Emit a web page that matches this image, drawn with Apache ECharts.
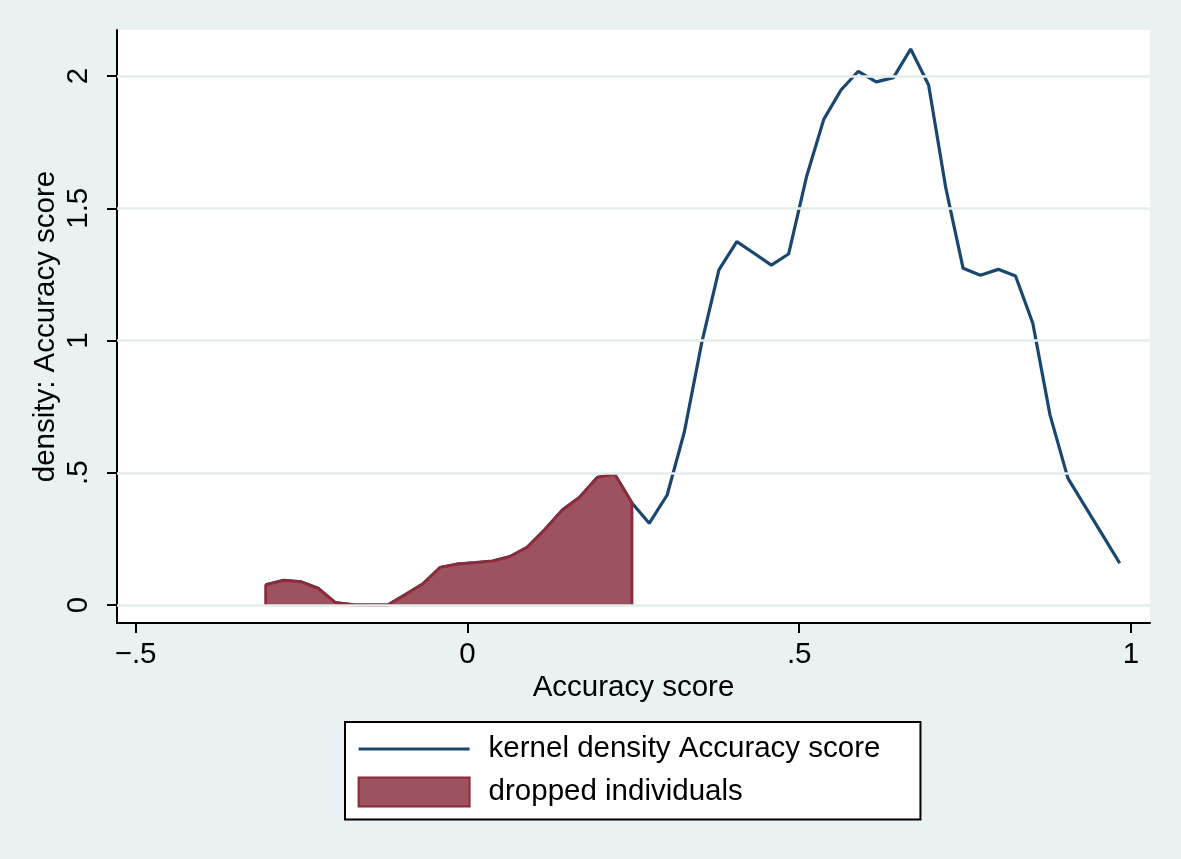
<!DOCTYPE html>
<html><head><meta charset="utf-8">
<script src="https://cdn.jsdelivr.net/npm/echarts@6/dist/echarts.min.js"></script>
<style>html,body{margin:0;padding:0;background:#e9f1f2}#c{width:1181px;height:859px}</style>
</head><body><div id="c"></div>
<script>
// Evaluation grid of the kernel density (Accuracy score)
const accuracyScore = [
  -0.304, -0.277, -0.251, -0.225, -0.199, -0.172, -0.146, -0.120, -0.093, -0.067,
  -0.041, -0.015, 0.012, 0.038, 0.064, 0.090, 0.117, 0.143, 0.169, 0.196,
  0.222, 0.248, 0.274, 0.301, 0.327, 0.353, 0.379, 0.406, 0.432, 0.458,
  0.484, 0.511, 0.537, 0.563, 0.589, 0.616, 0.642, 0.668, 0.695, 0.721,
  0.747, 0.773, 0.800, 0.826, 0.852, 0.878, 0.905, 0.931, 0.957, 0.983
];
// Estimated density at each grid point
const density = [
  0.076, 0.093, 0.088, 0.063, 0.009, 0.001, 0.000, 0.000, 0.040, 0.080,
  0.142, 0.155, 0.160, 0.166, 0.183, 0.218, 0.286, 0.359, 0.407, 0.483,
  0.494, 0.386, 0.309, 0.416, 0.655, 0.990, 1.267, 1.374, 1.330, 1.285,
  1.327, 1.619, 1.836, 1.947, 2.018, 1.978, 1.994, 2.102, 1.966, 1.575,
  1.273, 1.247, 1.269, 1.244, 1.065, 0.718, 0.479, 0.372, 0.265, 0.158
];
// Upper bound of accuracy score for the dropped individuals
const droppedCutoff = 0.25;

const xTicks = [-0.5, 0, 0.5, 1];
const xTickLabels = ['\u2212.5', '0', '.5', '1'];
const yTicks = [0, 0.5, 1, 1.5, 2];
const yTickLabels = ['0', '.5', '1', '1.5', '2'];
const seriesNames = ['kernel density Accuracy score', 'dropped individuals'];
const xTitle = 'Accuracy score';
const yTitle = 'density: Accuracy score';

const FONT = "'Liberation Sans', Arial, Helvetica, sans-serif";
const FS = 29.5;
const NAVY = '#1a476f';
const FILL = '#9d535f';
const EDGE = '#8f2b38';
const GRIDC = '#e3eded';

const lineData = accuracyScore.map((x, i) => [x, density[i]]);
const dropped = lineData.filter(p => p[0] <= droppedCutoff);
const areaData = [[dropped[0][0], 0]].concat(dropped, [[dropped[dropped.length - 1][0], 0]]);

function lookup(ticks, labels, v) {
  let best = 0;
  for (let i = 1; i < ticks.length; i++) if (Math.abs(ticks[i] - v) < Math.abs(ticks[best] - v)) best = i;
  return labels[best];
}

const chart = echarts.init(document.getElementById('c'), null, {renderer: 'canvas'});
chart.setOption({
  animation: false,
  backgroundColor: '#e9f1f2',
  textStyle: {fontFamily: FONT},
  grid: {left: 117, right: 31, top: 30, bottom: 236, show: true, backgroundColor: '#ffffff', borderWidth: 0},
  xAxis: {
    type: 'value', min: -0.528, max: 1.0286,
    axisLine: {show: true, onZero: false, lineStyle: {color: '#000', width: 2}},
    axisTick: {show: true, customValues: xTicks, length: 10, lineStyle: {color: '#000', width: 2}},
    axisLabel: {customValues: xTicks, formatter: v => lookup(xTicks, xTickLabels, v), fontSize: FS, color: '#000', margin: 17, fontFamily: FONT},
    splitLine: {show: false},
    name: xTitle, nameLocation: 'middle', nameGap: 50, nameMoveOverlap: false,
    nameTextStyle: {fontSize: FS, color: '#000', fontFamily: FONT}
  },
  yAxis: {
    type: 'value', min: -0.068, max: 2.174,
    axisLine: {show: true, onZero: false, lineStyle: {color: '#000', width: 2}},
    axisTick: {show: true, customValues: yTicks, length: 10, lineStyle: {color: '#000', width: 2}},
    axisLabel: {customValues: yTicks, formatter: v => lookup(yTicks, yTickLabels, v), rotate: 90, fontSize: FS, color: '#000', margin: 23, fontFamily: FONT},
    splitLine: {show: false},
    name: yTitle, nameLocation: 'middle', nameGap: 56, nameRotate: 90, nameMoveOverlap: false,
    nameTextStyle: {fontSize: FS, color: '#000', fontFamily: FONT}
  },
  legend: {
    left: 345, top: 722, orient: 'vertical',
    itemWidth: 111, itemHeight: 29, itemGap: 12.5,
    padding: [12, 40, 12, 12],
    backgroundColor: '#fff', borderColor: '#000', borderWidth: 2, borderRadius: 0,
    selectedMode: false,
    textStyle: {fontSize: FS, lineHeight: 29, color: '#000', fontFamily: FONT, padding: [0, 0, 0, 14]},
    data: [
      {name: seriesNames[0], itemStyle: {opacity: 0}, lineStyle: {color: NAVY, width: 3.2}},
      {name: seriesNames[1], icon: 'rect', itemStyle: {color: FILL, borderColor: EDGE, borderWidth: 2}}
    ]
  },
  series: [
    {
      name: '_grid', type: 'line', data: [], z: 1, silent: true,
      markLine: {
        silent: true, symbol: ['none', 'none'], label: {show: false},
        lineStyle: {color: GRIDC, width: 2.5, type: 'solid'},
        data: yTicks.map(v => ({yAxis: v}))
      }
    },
    {
      name: seriesNames[0], type: 'line', data: lineData, symbol: 'none', z: 3,
      lineStyle: {color: NAVY, width: 3.2}, itemStyle: {color: NAVY}
    },
    {
      name: seriesNames[1], type: 'line', data: areaData, symbol: 'none', z: 4,
      lineStyle: {color: EDGE, width: 2.8}, itemStyle: {color: FILL},
      areaStyle: {color: FILL, opacity: 1}
    }
  ]
});
</script>
</body></html>
